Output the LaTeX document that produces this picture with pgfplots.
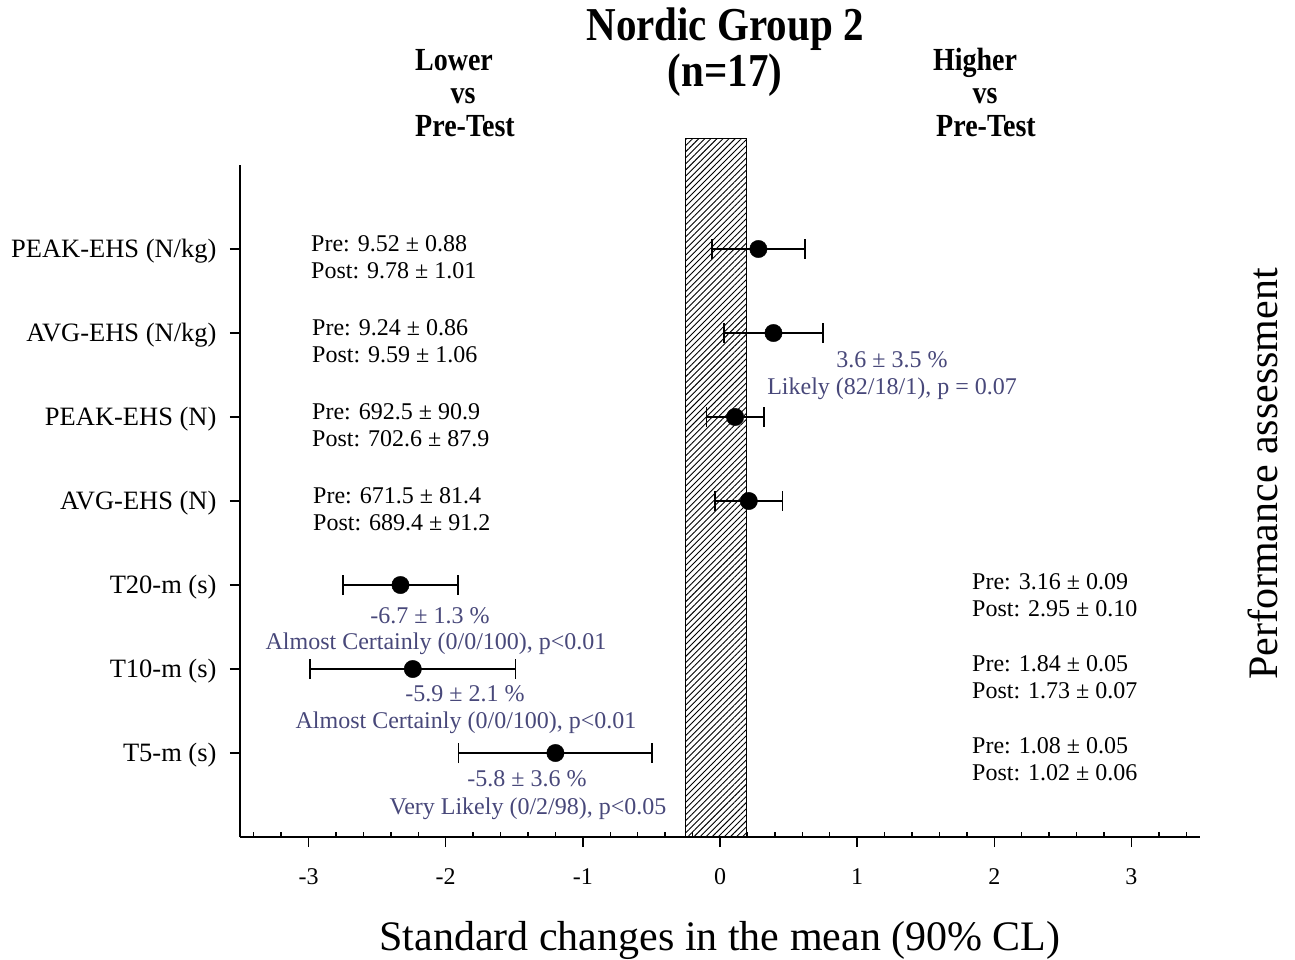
\documentclass[border=0pt]{standalone}
\usepackage{pgfplots}
\pgfplotsset{compat=1.18}
\usepackage{fontspec}
\setmainfont{Liberation Serif}
\usetikzlibrary{patterns.meta}
\definecolor{annot}{RGB}{72,72,122}
\newcommand{\annfont}{\fontsize{24}{29}\selectfont}
\newcommand{\hdrfont}{\fontsize{28}{34}\selectfont\bfseries}
\newcommand{\tall}[1]{\scalebox{1}[1.15]{#1}}
\begin{document}
\begin{tikzpicture}[x=1pt,y=1pt]
\useasboundingbox (0,0) rectangle (1295,-959);
\begin{axis}[
  at={(240pt,-837pt)}, anchor=south west,
  scale only axis, width=960pt, height=672pt,
  xmin=-3.5, xmax=3.5, ymin=0, ymax=8,
  axis x line=bottom, axis y line=left,
  x axis line style={-}, y axis line style={-},
  axis line style={line width=1.5pt, black},
  clip=false,
  xtick={-3,...,3},
  minor xtick={-3.4,-3.2,-2.8,-2.6,-2.4,-2.2,-1.8,-1.6,-1.4,-1.2,-0.8,-0.6,-0.4,-0.2,0.2,0.4,0.6,0.8,1.2,1.4,1.6,1.8,2.2,2.4,2.6,2.8,3.2,3.4},
  tick align=outside,
  major tick length=10pt,
  minor tick length=-5pt,
  every tick/.style={line width=1.3pt, black},
  ytick={1,...,7},
  yticklabels={T5-m (s), T10-m (s), T20-m (s), AVG-EHS (N), PEAK-EHS (N), AVG-EHS (N/kg), PEAK-EHS (N/kg)},
  yticklabel style={font=\fontsize{26.5}{31}\selectfont, xshift=-10pt, yshift=-2pt},
  xticklabel style={font=\fontsize{24}{29}\selectfont, yshift=-18pt},
  /pgf/number format/assume math mode=true,
]
\addplot[draw=black, line width=1pt, pattern={Lines[angle=45,distance=4.3pt,line width=0.9pt]}]
  coordinates {(-0.25,0) (-0.25,8.31) (0.19,8.31) (0.19,0)} -- cycle;
\addplot[only marks, mark=*, mark size=8.7pt, black,
  error bars/.cd, x dir=both, x explicit, error mark=|,
  error bar style={line width=1.5pt, black},
  error mark options={line width=1.5pt, mark size=10pt, black}]
  table[x=x, y=y, x error=e] {
x y e
0.28 7 0.34
0.39 6 0.36
0.11 5 0.21
0.21 4 0.245
-2.33 3 0.42
-2.24 2 0.75
-1.20 1 0.705
};
\end{axis}
% titles
\node[anchor=base, font=\fontsize{41}{50}\selectfont\bfseries] at (725,-40) {\tall{Nordic Group 2}};
\node[anchor=base, font=\fontsize{41}{50}\selectfont\bfseries] at (725,-86) {\tall{(n=17)}};
\node[anchor=base, font=\hdrfont] at (454,-70) {\tall{Lower}};
\node[anchor=base, font=\hdrfont] at (463,-103) {\tall{vs}};
\node[anchor=base, font=\hdrfont] at (465,-136) {\tall{Pre-Test}};
\node[anchor=base, font=\hdrfont] at (975,-70) {\tall{Higher}};
\node[anchor=base, font=\hdrfont] at (985,-103) {\tall{vs}};
\node[anchor=base, font=\hdrfont] at (986,-136) {\tall{Pre-Test}};
% axis labels
\node[anchor=base, font=\fontsize{42}{50}\selectfont] at (720,-950) {Standard changes in the mean (90\% CL)};
\node[anchor=base, rotate=90, font=\fontsize{42}{50}\selectfont] at (1277,-474) {Performance assessment};
% pre/post
\begin{scope}[every node/.style={anchor=base west, inner sep=0pt, font=\annfont}]
\node at (311,-251) {Pre: 9.52 ± 0.88};
\node at (311,-278) {Post: 9.78 ± 1.01};
\node at (312,-335) {Pre: 9.24 ± 0.86};
\node at (312,-362) {Post: 9.59 ± 1.06};
\node at (312,-419) {Pre: 692.5 ± 90.9};
\node at (312,-446) {Post: 702.6 ± 87.9};
\node at (313,-503) {Pre: 671.5 ± 81.4};
\node at (313,-530) {Post: 689.4 ± 91.2};
\node at (972,-589) {Pre: 3.16 ± 0.09};
\node at (972,-616) {Post: 2.95 ± 0.10};
\node at (972,-671) {Pre: 1.84 ± 0.05};
\node at (972,-698) {Post: 1.73 ± 0.07};
\node at (972,-753) {Pre: 1.08 ± 0.05};
\node at (972,-780) {Post: 1.02 ± 0.06};
\end{scope}
\begin{scope}[every node/.style={anchor=base, inner sep=0pt, font=\annfont, text=annot}]
\node at (892,-367) {3.6 ± 3.5 \%};
\node at (892,-394) {Likely (82/18/1), p = 0.07};
\node at (430,-623) {-6.7 ± 1.3 \%};
\node at (436,-649) {Almost Certainly (0/0/100), p<0.01};
\node at (465,-701) {-5.9 ± 2.1 \%};
\node at (466,-728) {Almost Certainly (0/0/100), p<0.01};
\node at (527,-786) {-5.8 ± 3.6 \%};
\node at (528,-814) {Very Likely (0/2/98), p<0.05};
\end{scope}
\end{tikzpicture}
\end{document}
